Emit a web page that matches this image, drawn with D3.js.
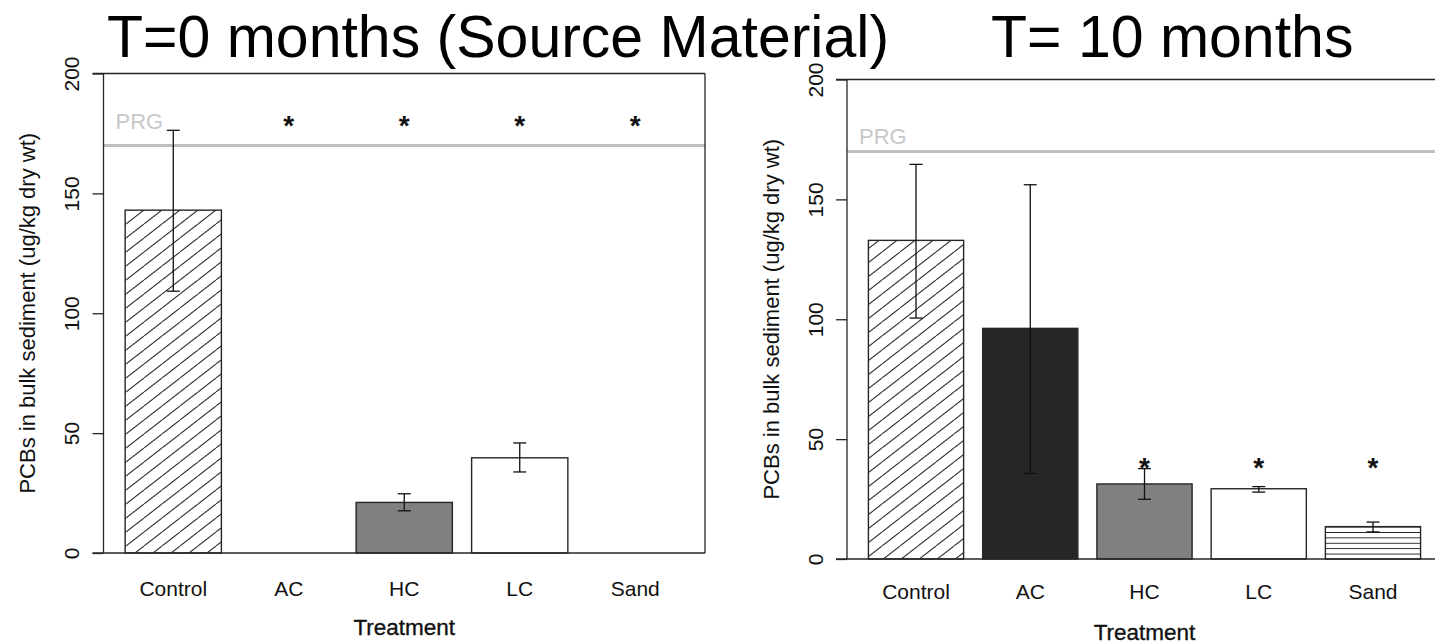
<!DOCTYPE html>
<html>
<head>
<meta charset="UTF-8" />
<title>PCBs in bulk sediment</title>
<script src="https://cdn.jsdelivr.net/npm/d3@7/dist/d3.min.js"></script>
<style>
body { margin: 0; background: #fff; }
svg text { font-family: "Liberation Sans", Arial, sans-serif; }
</style>
</head>
<body>
<svg id="chart" width="1435" height="644"></svg>
<script>
// data (ug/kg dry wt)
var treatments = ["Control", "AC", "HC", "LC", "Sand"];
var meanT0  = [143.0, null, 21.1, 39.7, null];
var upperT0 = [176.3, null, 24.7, 45.9, null];
var lowerT0 = [109.2, null, 17.6, 33.8, null];
var starT0  = [null, 180, 180, 180, 180];

var meanT10  = [132.9, 96.2, 31.3, 29.3, 13.5];
var upperT10 = [164.6, 156.1, 37.7, 30.2, 15.4];
var lowerT10 = [100.5, 35.7, 24.9, 27.9, 11.3];
var starT10  = [null, null, 40, 40, 40];

var barFills = ["url(#hatch)", "#262626", "#808080", "#ffffff", "url(#stripes)"];
var prgValue = 170;
var yTicks = [0, 50, 100, 150, 200];
var titles = ["T=0 months (Source Material)", "T= 10 months"];
var yLabel = "PCBs in bulk sediment (ug/kg dry wt)";
var xLabel = "Treatment";

var svg = d3.select("#chart");
var ink = "#262626";

// fill patterns
var defs = svg.append("defs");
var hatch = defs.append("pattern").attr("id", "hatch")
    .attr("patternUnits", "userSpaceOnUse").attr("width", 18).attr("height", 14);
hatch.append("rect").attr("width", 18).attr("height", 14).attr("fill", "#fff");
hatch.append("path").attr("d", "M-18,14L0,0M0,14L18,0M18,14L36,0")
    .attr("stroke", "#333").attr("stroke-width", 1.1);

var stripes = defs.append("pattern").attr("id", "stripes")
    .attr("patternUnits", "userSpaceOnUse").attr("y", 559)
    .attr("width", 10).attr("height", 5.4);
stripes.append("rect").attr("width", 10).attr("height", 5.4).attr("fill", "#fff");
stripes.append("line").attr("x1", 0).attr("x2", 10).attr("y1", 0).attr("y2", 0)
    .attr("stroke", "#1a1a1a").attr("stroke-width", 1.8);

var panels = [
    {left: 103.5, right: 705, top: 73.5, bottom: 553, mean: meanT0, upper: upperT0, lower: lowerT0,
     star: starT0, prgLabel: 177, yLabX: 35, xLabY: 596, treatY: 635, titleX: 107},
    {left: 847, right: 1442, top: 79.5, bottom: 559, mean: meanT10, upper: upperT10, lower: lowerT10,
     star: starT10, prgLabel: 173, yLabX: 779, xLabY: 599, treatY: 640, titleX: 991}
];

panels.forEach(function(p, k) {
    var g = svg.append("g");
    var inset = 0.036 * (p.right - p.left);

    var x = d3.scaleBand().domain(treatments)
        .range([p.left + inset, p.right - inset])
        .paddingInner(0.1667).paddingOuter(0);
    var y = d3.scaleLinear().domain([0, 200]).range([p.bottom, p.top]);

    // PRG line + label
    g.append("line")
        .attr("x1", p.left).attr("x2", p.right)
        .attr("y1", y(prgValue)).attr("y2", y(prgValue))
        .attr("stroke", "#c0c0c0").attr("stroke-width", 3);
    g.append("text").attr("x", p.left + 12).attr("y", y(p.prgLabel))
        .attr("font-size", 22).attr("fill", "#c8c8c8").text("PRG");

    // bars
    var rows = treatments.map(function(t, i) {
        return {t: t, m: p.mean[i], hi: p.upper[i], lo: p.lower[i], s: p.star[i], fill: barFills[i]};
    });
    g.selectAll("rect.bar").data(rows.filter(function(d) { return d.m != null; }))
        .enter().append("rect").attr("class", "bar")
        .attr("x", function(d) { return x(d.t); })
        .attr("width", x.bandwidth())
        .attr("y", function(d) { return y(d.m); })
        .attr("height", function(d) { return y(0) - y(d.m); })
        .attr("fill", function(d) { return d.fill; })
        .attr("stroke", ink).attr("stroke-width", 1.4);

    // error bars
    var eb = g.selectAll("g.err").data(rows.filter(function(d) { return d.hi != null; }))
        .enter().append("g").attr("class", "err")
        .attr("stroke", "#111").attr("stroke-width", 1.3);
    eb.append("line")
        .attr("x1", function(d) { return x(d.t) + x.bandwidth() / 2; })
        .attr("x2", function(d) { return x(d.t) + x.bandwidth() / 2; })
        .attr("y1", function(d) { return y(d.hi); })
        .attr("y2", function(d) { return y(d.lo); });
    ["hi", "lo"].forEach(function(key) {
        eb.append("line")
            .attr("x1", function(d) { return x(d.t) + x.bandwidth() / 2 - 6.5; })
            .attr("x2", function(d) { return x(d.t) + x.bandwidth() / 2 + 6.5; })
            .attr("y1", function(d) { return y(d[key]); })
            .attr("y2", function(d) { return y(d[key]); });
    });

    // significance stars
    g.selectAll("text.star").data(rows.filter(function(d) { return d.s != null; }))
        .enter().append("text").attr("class", "star")
        .attr("x", function(d) { return x(d.t) + x.bandwidth() / 2; })
        .attr("y", function(d) { return y(d.s) + 14; })
        .attr("text-anchor", "middle").attr("font-size", 28).attr("font-weight", "bold")
        .attr("fill", "#111").text("*");

    // frame
    g.append("line").attr("x1", p.left).attr("x2", p.left)
        .attr("y1", p.top).attr("y2", p.bottom).attr("stroke", ink).attr("stroke-width", 1.3);
    g.append("line").attr("x1", p.left - 11).attr("x2", p.right)
        .attr("y1", p.top).attr("y2", p.top).attr("stroke", ink).attr("stroke-width", 1.3);
    g.append("line").attr("x1", p.left - 11).attr("x2", p.right)
        .attr("y1", p.bottom).attr("y2", p.bottom).attr("stroke", ink).attr("stroke-width", 1.3);
    g.append("line").attr("x1", p.right).attr("x2", p.right)
        .attr("y1", p.top).attr("y2", p.bottom).attr("stroke", ink).attr("stroke-width", 1.3);

    // y axis ticks + rotated labels
    var yAxis = g.append("g").attr("transform", "translate(" + p.left + ",0)")
        .call(d3.axisLeft(y).tickValues(yTicks).tickSize(11).tickFormat(d3.format("d")));
    yAxis.select(".domain").remove();
    yAxis.selectAll(".tick line").attr("stroke", ink).attr("stroke-width", 1.3);
    yAxis.selectAll(".tick text")
        .attr("font-size", 21).attr("fill", "#111")
        .attr("x", null).attr("dy", null)
        .attr("text-anchor", "middle")
        .attr("transform", "translate(-24.5,0) rotate(-90)");

    // category labels
    g.selectAll("text.cat").data(treatments).enter().append("text").attr("class", "cat")
        .attr("x", function(d) { return x(d) + x.bandwidth() / 2; })
        .attr("y", p.xLabY).attr("text-anchor", "middle")
        .attr("font-size", 21).attr("fill", "#111").text(function(d) { return d; });

    // axis titles
    g.append("text").attr("x", (p.left + p.right) / 2).attr("y", p.treatY)
        .attr("text-anchor", "middle").attr("font-size", 22.5)
        .attr("fill", "#111").attr("stroke", "#111").attr("stroke-width", 0.35).text(xLabel);
    g.append("text")
        .attr("transform", "translate(" + p.yLabX + "," + (p.top + p.bottom) / 2 + ") rotate(-90)")
        .attr("text-anchor", "middle").attr("font-size", 22).attr("fill", "#111").text(yLabel);

    // panel title
    svg.append("text").attr("x", p.titleX).attr("y", 57)
        .attr("font-size", 59).attr("fill", "#000").text(titles[k]);
});
</script>
</body>
</html>
